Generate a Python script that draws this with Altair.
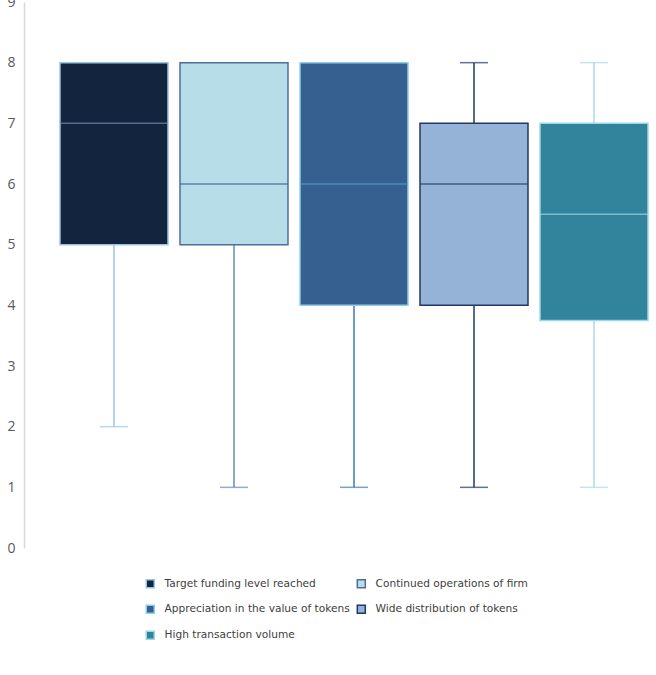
import altair as alt
import pandas as pd

categories = [
    "Target funding level reached",
    "Continued operations of firm",
    "Appreciation in the value of tokens",
    "Wide distribution of tokens",
    "High transaction volume",
]
lower = [2, 1, 1, 1, 1]
q1 = [5, 5, 4, 4, 3.75]
median = [7, 6, 6, 6, 5.5]
q3 = [8, 8, 8, 7, 7]
upper = [8, 8, 8, 8, 8]

fills = ["#13243f", "#b7dee8", "#35608f", "#95b3d7", "#31849b"]
box_strokes = ["#9dc3e6", "#4f6d99", "#8ed0e6", "#1f3864", "#9fd6e4"]
median_colors = ["#6f8bab", "#3c5b8b", "#4ca6c8", "#1f3864", "#9fd6e4"]
whisker_colors = ["#9dc3e6", "#6a87b8", "#3b7bb1", "#1f3864", "#a8dbe7"]

df = pd.DataFrame({
    "cat": categories, "lower": lower, "q1": q1, "median": median,
    "q3": q3, "upper": upper, "mcol": median_colors, "wcol": whisker_colors,
})

x = alt.X("cat:N", sort=categories, axis=None,
          scale=alt.Scale(paddingInner=0.1, paddingOuter=0.05))
yscale = alt.Scale(domain=[0, 9], nice=False)
yaxis = alt.Axis(values=list(range(0, 10)), format="d", grid=False, ticks=False, tickSize=0,
                 domainColor="#d9d9d9", domainWidth=1.5, offset=30, labelPadding=9,
                 labelColor="#595959", labelFont="Open Sans", labelFontSize=14,
                 title=None)

base = alt.Chart(df)

low_whisker = base.mark_rule(strokeWidth=1.5).encode(
    x=x, y=alt.Y("lower:Q", scale=yscale, axis=yaxis), y2="q1:Q",
    color=alt.Color("wcol:N", scale=None))
low_cap = base.mark_tick(size=28, thickness=1.5).encode(
    x=x, y=alt.Y("lower:Q", scale=yscale), color=alt.Color("wcol:N", scale=None))
up_whisker = base.transform_filter("datum.upper > datum.q3").mark_rule(strokeWidth=1.5).encode(
    x=x, y=alt.Y("q3:Q", scale=yscale), y2="upper:Q",
    color=alt.Color("wcol:N", scale=None))
up_cap = base.transform_filter("datum.upper > datum.q3").mark_tick(size=28, thickness=1.5).encode(
    x=x, y=alt.Y("upper:Q", scale=yscale), color=alt.Color("wcol:N", scale=None))

leg = alt.Legend(title=None, orient="none", legendX=91, legendY=576, columns=2,
                 direction="horizontal",
                 symbolType="square", symbolSize=64, symbolStrokeWidth=1.5,
                 labelFont="DejaVu Sans", labelFontSize=10.6, labelColor="#404040",
                 labelOffset=9, columnPadding=4, rowPadding=11, labelLimit=300)

boxes = base.mark_bar(strokeWidth=1.5).encode(
    x=x, y=alt.Y("q1:Q", scale=yscale), y2="q3:Q",
    fill=alt.Fill("cat:N", scale=alt.Scale(domain=categories, range=fills), legend=leg),
    stroke=alt.Stroke("cat:N", scale=alt.Scale(domain=categories, range=box_strokes), legend=leg),
)

med = base.mark_tick(size=108, thickness=1.5).encode(
    x=x, y=alt.Y("median:Q", scale=yscale), color=alt.Color("mcol:N", scale=None))

chart = alt.layer(low_whisker, low_cap, up_whisker, up_cap, boxes, med).properties(
    width=600, height=546,
    background="white",
    autosize=alt.AutoSizeParams(type="none"),
    padding={"left": 54, "top": 2, "right": 2, "bottom": 127},
).configure_view(stroke=None)

chart.save("out.html", embed_options={"renderer": "svg", "actions": False})
